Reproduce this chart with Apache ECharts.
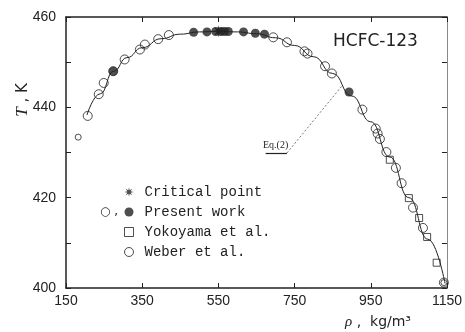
<!DOCTYPE html>
<html>
<head>
<meta charset="utf-8">
<script src="https://cdn.jsdelivr.net/npm/echarts@6/dist/echarts.min.js"></script>
<style>
  html, body { margin: 0; padding: 0; background: #fff; }
  #chart { width: 465px; height: 332px; }
</style>
</head>
<body>
<div id="chart"></div>
<script>
// density ticks (kg/m3) and temperature ticks (K)
var rhoTicks = [150, 350, 550, 750, 950, 1150];
var tLabels = [400, 420, 440, 460];

// Eq.(2) curve
var curveRho = [205, 240, 275, 310, 350, 400, 450, 500, 550, 600, 650, 700, 750, 800, 850, 900, 950, 1000, 1050, 1100, 1145];
var curveT = [438.3, 443.0, 448.0, 451.0, 453.2, 455.2, 456.2, 456.7, 456.83, 456.7, 456.3, 455.4, 453.7, 451.2, 447.5, 442.5, 436.8, 429.0, 420.0, 410.8, 401.0];

// present work, open symbols
var openRho = [207, 236, 249, 274, 304, 344, 357, 392, 420, 694, 730, 776, 784, 830, 848, 928, 963, 968, 974, 991, 1016, 1031, 1061, 1087, 1142];
var openT = [438.1, 442.9, 445.4, 448.0, 450.6, 452.8, 453.9, 455.1, 456.0, 455.5, 454.4, 452.4, 451.9, 449.1, 447.5, 439.5, 435.3, 434.2, 433.0, 430.1, 426.6, 423.2, 417.8, 413.3, 401.2];

// present work, filled symbols
var filledRho = [274, 485, 520, 543, 556, 566, 576, 616, 647, 671, 893];
var filledT = [448.0, 456.6, 456.7, 456.8, 456.8, 456.8, 456.8, 456.7, 456.4, 456.2, 443.4];

// critical point
var critRho = [550];
var critT = [456.83];

// Yokoyama et al.
var yokoRho = [1000, 1050, 1077, 1098, 1123];
var yokoT = [428.4, 419.9, 415.5, 411.3, 405.6];

// Weber et al.
var weberRho = [182, 1142];
var weberT = [433.4, 401.2];

function pairs(xs, ys) {
    return xs.map(function (x, i) { return [x, ys[i]]; });
}

var ink = '#222';
var starPath = 'path://M10,5 L6.85,5.77 L8.54,8.54 L5.77,6.85 L5,10 L4.23,6.85 L1.46,8.54 L3.15,5.77 L0,5 L3.15,4.23 L1.46,1.46 L4.23,3.15 L5,0 L5.77,3.15 L8.54,1.46 L6.85,4.23 Z';
var plain = function (v) { return String(v); };

var chart = echarts.init(document.getElementById('chart'), null, { renderer: 'canvas' });

var option = {
    animation: false,
    backgroundColor: '#fff',
    grid: { left: 66, right: 18, top: 17, bottom: 44 },
    legend: {
        orient: 'vertical',
        left: 119,
        top: 180,
        itemWidth: 9,
        itemHeight: 9,
        itemGap: 6,
        textStyle: { fontFamily: 'Liberation Mono', fontSize: 14, color: ink, padding: [0, 0, 0, 6] },
        data: [
            { name: 'Critical point', icon: starPath, itemStyle: { color: ink } },
            { name: 'Present work', icon: 'circle', itemStyle: { color: ink } },
            { name: 'Yokoyama et al.', icon: 'rect', itemStyle: { color: '#fff', borderColor: ink, borderWidth: 1 } },
            { name: 'Weber et al.', icon: 'circle', itemStyle: { color: '#fff', borderColor: ink, borderWidth: 1 } }
        ]
    },
    xAxis: [
        {
            type: 'value', min: 150, max: 1150,
            axisLine: { onZero: false, lineStyle: { color: ink, width: 1.5 } },
            axisTick: { inside: true, length: 5, customValues: rhoTicks, lineStyle: { color: ink } },
            axisLabel: { customValues: rhoTicks, formatter: plain, fontFamily: 'Liberation Sans', fontSize: 14, color: ink, margin: 6 },
            splitLine: { show: false }
        },
        {
            type: 'value', min: 150, max: 1150, position: 'top',
            axisLine: { onZero: false, lineStyle: { color: ink, width: 1.5 } },
            axisTick: { inside: true, length: 5, customValues: rhoTicks, lineStyle: { color: ink } },
            axisLabel: { show: false },
            splitLine: { show: false }
        }
    ],
    yAxis: [
        {
            type: 'value', min: 400, max: 460, interval: 10,
            axisLine: { show: true, onZero: false, lineStyle: { color: ink, width: 1.5 } },
            axisTick: { show: true, inside: true, length: 5, lineStyle: { color: ink } },
            axisLabel: { customValues: tLabels, formatter: plain, fontFamily: 'Liberation Sans', fontSize: 14, color: ink, margin: 10 },
            splitLine: { show: false }
        },
        {
            type: 'value', min: 400, max: 460, interval: 10, position: 'right',
            axisLine: { show: true, onZero: false, lineStyle: { color: '#888', width: 1 } },
            axisTick: { show: true, inside: true, length: 5, lineStyle: { color: ink } },
            axisLabel: { show: false },
            splitLine: { show: false }
        }
    ],
    series: [
        {
            name: 'Eq.(2)',
            type: 'line',
            data: pairs(curveRho, curveT),
            smooth: true,
            smoothMonotone: 'x',
            showSymbol: false,
            lineStyle: { color: ink, width: 1 },
            z: 1,
            markLine: {
                silent: true,
                symbol: 'none',
                label: { show: false },
                data: [
                    [{ coord: [674, 429.9], lineStyle: { type: 'solid', width: 1.2, color: ink } },
                     { coord: [730, 429.9] }],
                    [{ coord: [730, 429.9], lineStyle: { type: [2, 2], width: 0.8, color: '#555' } },
                     { coord: [874, 444.7] }]
                ]
            }
        },
        {
            name: 'Present work',
            type: 'scatter',
            data: pairs(filledRho, filledT),
            symbol: 'circle',
            symbolSize: 9,
            itemStyle: { color: ink },
            z: 3
        },
        {
            name: 'Present work open',
            type: 'scatter',
            data: pairs(openRho, openT),
            symbol: 'circle',
            symbolSize: 9,
            itemStyle: { color: 'rgba(255,255,255,0)', borderColor: ink, borderWidth: 1 },
            z: 2
        },
        {
            name: 'Critical point',
            type: 'scatter',
            data: pairs(critRho, critT),
            symbol: starPath,
            symbolSize: 12,
            itemStyle: { color: ink },
            z: 4
        },
        {
            name: 'Yokoyama et al.',
            type: 'scatter',
            data: pairs(yokoRho, yokoT),
            symbol: 'rect',
            symbolSize: 7,
            itemStyle: { color: 'rgba(255,255,255,0)', borderColor: ink, borderWidth: 1 },
            z: 2
        },
        {
            name: 'Weber et al.',
            type: 'scatter',
            data: pairs(weberRho, weberT),
            symbol: 'circle',
            symbolSize: 6,
            itemStyle: { color: 'rgba(255,255,255,0)', borderColor: ink, borderWidth: 1 },
            z: 2
        }
    ],
    graphic: [
        {
            type: 'text', left: 333, top: 33,
            style: { text: 'HCFC-123', font: '17px "DejaVu Sans"', fill: ink }
        },
        {
            type: 'text', x: 263, y: 145,
            style: { text: 'Eq.(2)', font: '10px "Liberation Serif"', fill: ink, verticalAlign: 'middle' }
        },
        {
            type: 'text', x: 100, y: 212,
            style: { text: '○ ,', font: '12px "DejaVu Sans"', fill: ink, verticalAlign: 'middle' }
        },
        {
            type: 'text', x: 23, y: 100, rotation: Math.PI / 2,
            style: {
                text: '{i|T} , K',
                rich: { i: { fontStyle: 'italic', fontFamily: 'Liberation Serif', fontSize: 17, fill: ink } },
                font: '15px "DejaVu Sans"', fill: ink, align: 'center', verticalAlign: 'middle'
            }
        },
        {
            type: 'text', x: 378, y: 322,
            style: {
                text: '{i|ρ} ,  kg/m³',
                rich: { i: { fontStyle: 'italic', fontFamily: 'Liberation Serif', fontSize: 15, fill: ink } },
                font: '14px "DejaVu Sans"', fill: ink, align: 'center', verticalAlign: 'middle'
            }
        }
    ]
};

chart.setOption(option);
</script>
</body>
</html>
